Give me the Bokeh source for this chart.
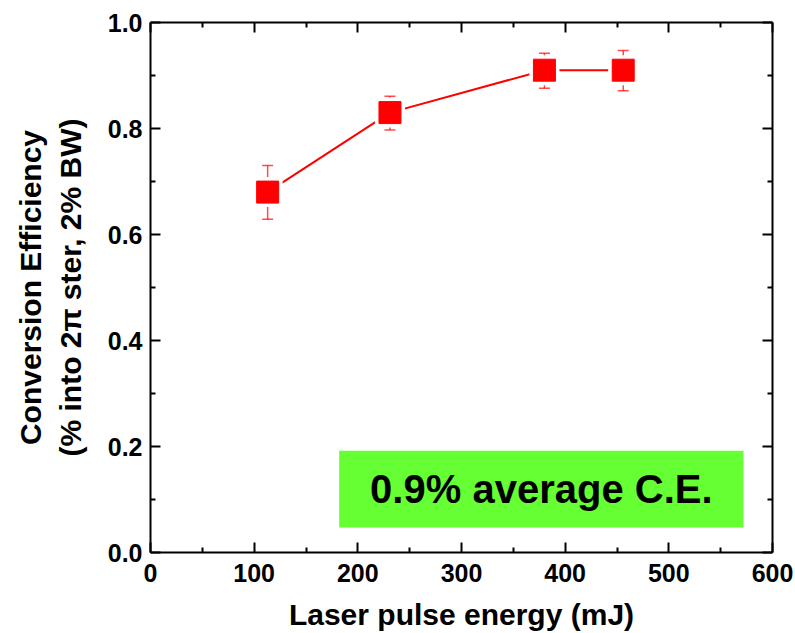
from bokeh.plotting import figure
from bokeh.models import (ColumnDataSource, Whisker, TeeHead, LinearAxis, Range1d, FixedTicker,
                          BoxAnnotation, Label, NumeralTickFormatter, CustomJSTickFormatter)
from bokeh.embed import file_html
from bokeh.resources import INLINE

energy = [113, 231, 380, 456]
efficiency = [0.68, 0.83, 0.91, 0.91]
err_upper = [0.73, 0.861, 0.942, 0.947]
err_lower = [0.629, 0.797, 0.876, 0.871]
x_ticks = [0, 100, 200, 300, 400, 500, 600]
y_ticks = [0.0, 0.2, 0.4, 0.6, 0.8, 1.0]
box_text = "0.9% average C.E."
x_title = "Laser pulse energy (mJ)"
y_title = "Conversion Efficiency\n(% into 2\u03c0 ster, 2% BW)"

FONT = "Liberation Sans"
RED = "#ff0000"

p = figure(width=795, height=633, output_backend="svg", toolbar_location=None,
           x_range=Range1d(0, 600), y_range=Range1d(0, 1.0),
           min_border_left=150, min_border_right=23, min_border_top=22, min_border_bottom=80)
p.outline_line_color = None
p.xgrid.visible = False
p.ygrid.visible = False

src = ColumnDataSource(dict(x=energy, y=efficiency, up=err_upper, lo=err_lower))

# green annotation box
p.add_layout(BoxAnnotation(left=182, right=572, bottom=0.047, top=0.192,
                           fill_color="#66ff33", fill_alpha=1.0, line_color=None, level="underlay"))
p.add_layout(Label(x=377, y=0.1195, text=box_text, text_font=FONT,
                   text_font_style="bold", text_font_size="40px", text_align="center",
                   text_baseline="middle", text_color="black"))

p.line("x", "y", source=src, line_color=RED, line_width=2)
p.scatter("x", "y", source=src, marker="square", size=30, fill_color="white", line_color=None)
w = Whisker(source=src, base="x", upper="up", lower="lo", line_color=RED, line_alpha=0.7, line_width=1.5,
            upper_head=TeeHead(size=11, line_color=RED, line_alpha=0.7, line_width=1.5),
            lower_head=TeeHead(size=11, line_color=RED, line_alpha=0.7, line_width=1.5))
p.add_layout(w)
p.scatter("x", "y", source=src, marker="square", size=22, fill_color=RED, line_color=RED, line_width=1)

def style(ax):
    ax.axis_line_width = 2
    ax.axis_line_color = "black"
    ax.major_tick_in = 10
    ax.major_tick_out = 0
    ax.minor_tick_in = 5
    ax.minor_tick_out = 0
    ax.major_tick_line_width = 2
    ax.minor_tick_line_width = 2
    ax.major_tick_line_color = "black"
    ax.minor_tick_line_color = "black"
    ax.major_label_text_font = FONT
    ax.major_label_text_font_style = "bold"
    ax.major_label_text_font_size = "25px"
    ax.major_label_text_color = "black"
    ax.major_label_standoff = 8
    ax.axis_label_text_font = FONT
    ax.axis_label_text_font_style = "bold"
    ax.axis_label_text_font_size = "30px"
    ax.axis_label_text_color = "black"

xt = FixedTicker(ticks=x_ticks, minor_ticks=[50, 150, 250, 350, 450, 550])
yt = FixedTicker(ticks=y_ticks, minor_ticks=[0.1, 0.3, 0.5, 0.7, 0.9])

p.xaxis.ticker = xt
p.yaxis.ticker = yt
p.yaxis.formatter = NumeralTickFormatter(format="0.0")
style(p.xaxis[0])
style(p.yaxis[0])
p.xaxis[0].major_label_standoff = 11
p.xaxis.axis_label = x_title
p.yaxis.axis_label = y_title
p.xaxis.axis_label_standoff = 13
p.yaxis.axis_label_standoff = 18

blank = CustomJSTickFormatter(code="return ''")
top = LinearAxis(ticker=xt, formatter=blank)
style(top)
p.add_layout(top, "above")
right = LinearAxis(ticker=yt, formatter=blank)
style(right)
p.add_layout(right, "right")

open("out.html", "w").write(file_html(p, INLINE))
